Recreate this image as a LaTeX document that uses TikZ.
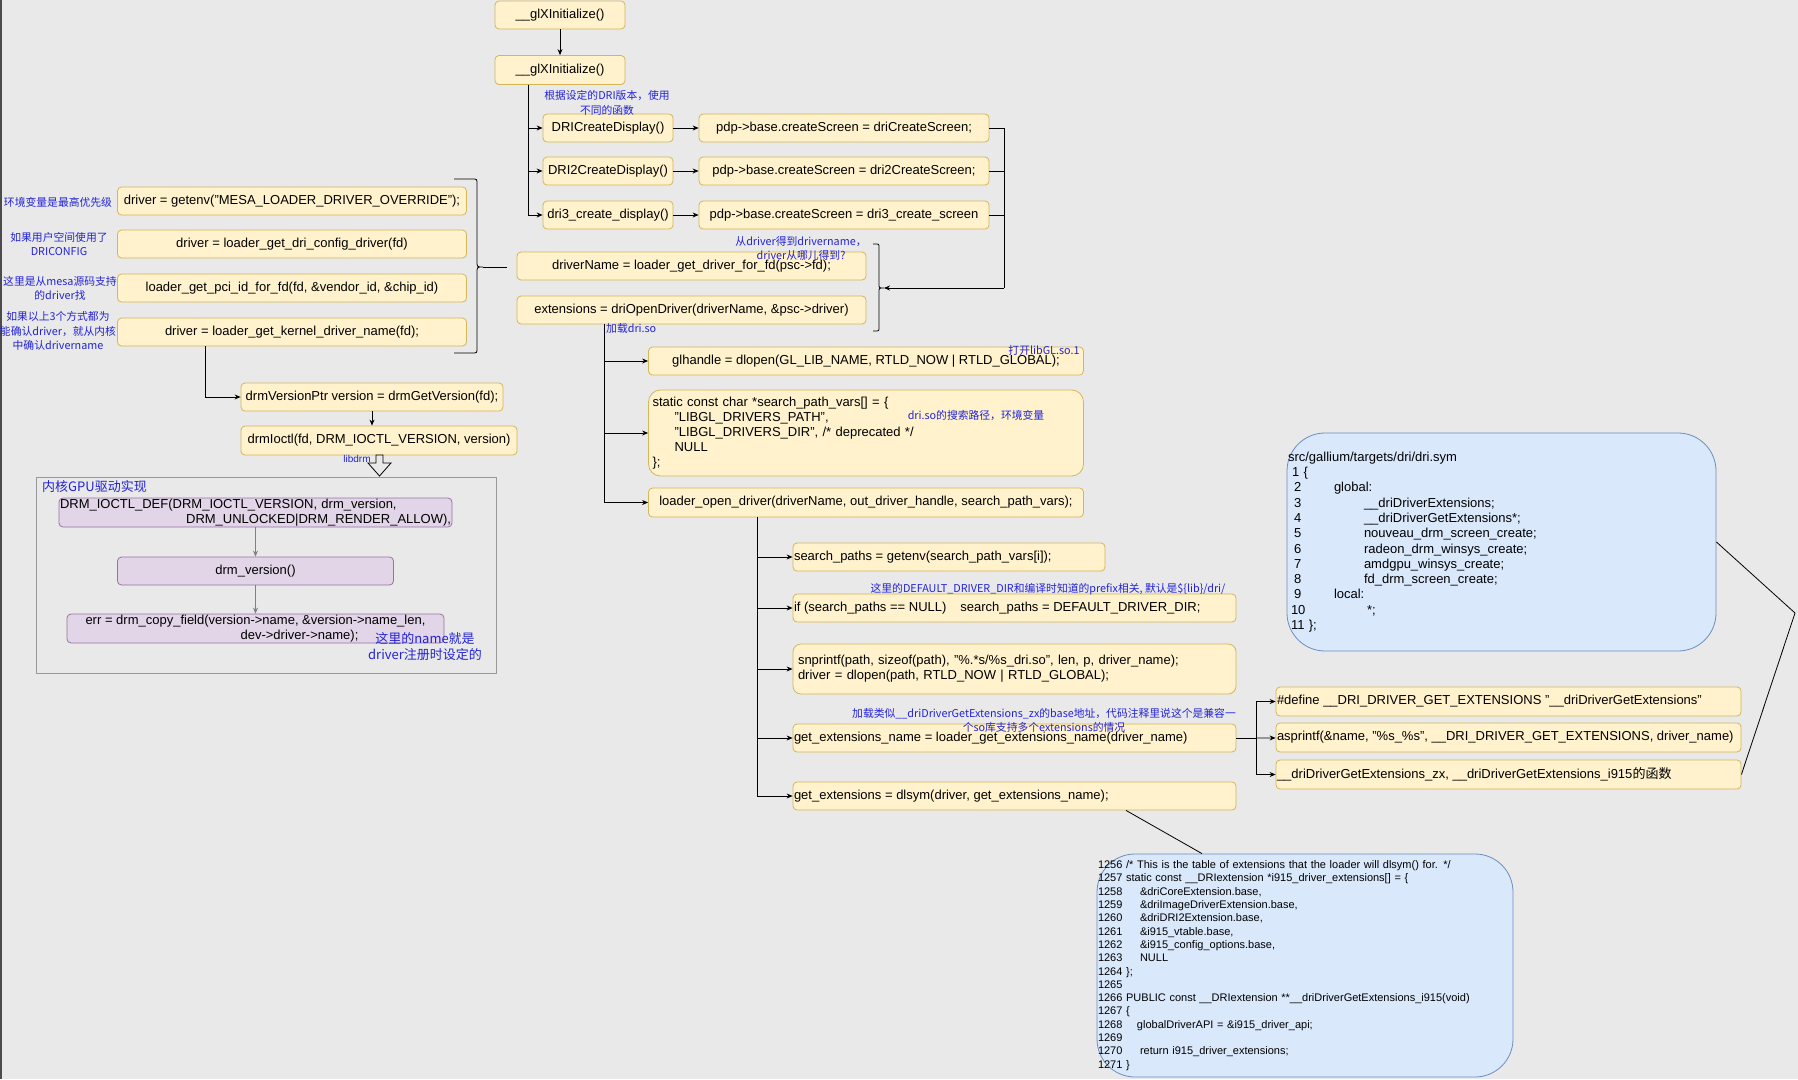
\documentclass[tikz,border=0pt]{standalone}
\usepackage{fontspec}
\setmainfont{Liberation Sans}
\newfontfamily\cjk{Noto Sans CJK SC}
\usetikzlibrary{arrows.meta}
\definecolor{bgc}{RGB}{233,233,233}
\definecolor{yfill}{RGB}{255,242,204}
\definecolor{ydraw}{RGB}{214,182,86}
\definecolor{pfill}{RGB}{225,213,231}
\definecolor{pdraw}{RGB}{150,115,166}
\definecolor{bfill}{RGB}{218,232,252}
\definecolor{bdraw}{RGB}{108,142,191}
\definecolor{notec}{RGB}{35,35,215}
\newcommand\codeno[2]{\makebox[#1][l]{#2}}
\newcommand\lft[2]{\makebox[#1pt][l]{#2}}
\tikzset{sz/.style 2 args={minimum width=#1pt,minimum height=#2pt}}

\begin{document}
\begin{tikzpicture}[x=1pt,y=-1pt,
    ybox/.style={draw=ydraw,fill=yfill,rounded corners=4pt,line width=0.8pt,inner sep=2pt,align=center,font=\fontsize{13}{15}\selectfont},
    lbox/.style={ybox,inner xsep=1pt},
    pbox/.style={draw=pdraw,fill=pfill,rounded corners=4pt,line width=0.8pt,inner sep=2pt,align=center,font=\fontsize{13}{15}\selectfont},
    bbox/.style={draw=bdraw,fill=bfill,rounded corners=38pt,line width=0.8pt,align=left,inner xsep=1pt},
    note/.style={text=notec,font=\cjk\fontsize{10.8}{14.5}\selectfont,align=center,inner sep=0pt},
    bignote/.style={note,font=\cjk\fontsize{13}{16}\selectfont},
    wire/.style={line width=0.8pt},
    arr/.style={wire,-{Stealth[length=6pt,width=5pt]}},
    garr/.style={arr,draw=gray}]
    \useasboundingbox (0,0) rectangle (1798,1079);
    \fill[bgc] (0,0) rectangle (1798,1079);
    \draw[line width=1.6pt,black!70] (1,0) -- (1,1079);

    \node[ybox,sz={130}{28}] (glx1) at (560,15) {\_\_glXInitialize()};
    \node[ybox,sz={130}{29}] (glx2) at (560,70) {\_\_glXInitialize()};
    \node[ybox,sz={130}{28}] (dri1) at (608,128) {DRICreateDisplay()};
    \node[ybox,sz={130}{28}] (dri2) at (608,171) {DRI2CreateDisplay()};
    \node[ybox,sz={130}{28}] (dri3) at (608,215) {dri3\_create\_display()};
    \node[ybox,sz={290}{28}] (pdp1) at (844,128) {pdp->base.createScreen = driCreateScreen;};
    \node[ybox,sz={290}{28}] (pdp2) at (844,171) {pdp->base.createScreen = dri2CreateScreen;};
    \node[ybox,sz={290}{28}] (pdp3) at (844,215) {pdp->base.createScreen = dri3\_create\_screen};

    \node[ybox,sz={349}{28}] (env) at (292,201) {driver = getenv("MESA\_LOADER\_DRIVER\_OVERRIDE");};
    \node[ybox,sz={349}{28}] (cfg) at (292,244) {driver = loader\_get\_dri\_config\_driver(fd)};
    \node[ybox,sz={349}{28}] (pci) at (292,288) {loader\_get\_pci\_id\_for\_fd(fd, \&vendor\_id, \&chip\_id)};
    \node[ybox,sz={349}{28}] (kdrv) at (292,332) {driver = loader\_get\_kernel\_driver\_name(fd);};
    \node[ybox,sz={262}{28}] (drmver) at (372,397) {drmVersionPtr version = drmGetVersion(fd);};
    \node[ybox,sz={276}{29}] (drmio) at (379,440.5) {drmIoctl(fd, DRM\_IOCTL\_VERSION, version)};

    \node[ybox,sz={349}{28}] (dname) at (691.5,266) {driverName = loader\_get\_driver\_for\_fd(psc->fd);};
    \node[ybox,sz={349}{28}] (ext) at (691.5,310) {extensions = driOpenDriver(driverName, \&psc->driver)};
    \node[ybox,sz={435}{28}] (glh) at (866,361) {glhandle = dlopen(GL\_LIB\_NAME, RTLD\_NOW | RTLD\_GLOBAL);};
    \node[ybox,align=left,rounded corners=12pt,inner xsep=4pt,text width=427pt,minimum height=86pt] (spv) at (866,433) {static const char *search\_path\_vars[] = \{\\\hspace*{22pt}"LIBGL\_DRIVERS\_PATH",\\\hspace*{22pt}"LIBGL\_DRIVERS\_DIR", /* deprecated */\\\hspace*{22pt}NULL\\\};};
    \node[ybox,sz={435}{29}] (lod) at (866,502.5) {loader\_open\_driver(driverName, out\_driver\_handle, search\_path\_vars);};

    \node[lbox,minimum height=28pt] (spath) at (949,557) {\lft{310}{search\_paths = getenv(search\_path\_vars[i]);}};
    \node[lbox,minimum height=28pt] (ifn) at (1014.5,608) {\lft{441}{if (search\_paths == NULL)\hspace{14pt}search\_paths = DEFAULT\_DRIVER\_DIR;}};
    \node[ybox,align=left,rounded corners=8pt,inner xsep=5pt,text width=433pt,minimum height=50pt] (snp) at (1014.5,669) {snprintf(path, sizeof(path), "\%.*s/\%s\_dri.so", len, p, driver\_name);\\driver = dlopen(path, RTLD\_NOW | RTLD\_GLOBAL);};
    \node[lbox,minimum height=28pt] (gen) at (1014.5,738) {\lft{441}{get\_extensions\_name = loader\_get\_extensions\_name(driver\_name)}};
    \node[lbox,minimum height=28pt] (gext) at (1014.5,796) {\lft{441}{get\_extensions = dlsym(driver, get\_extensions\_name);}};

    \node[lbox,minimum height=29pt] (def) at (1508.5,701.5) {\lft{463}{\#define \_\_DRI\_DRIVER\_GET\_EXTENSIONS "\_\_driDriverGetExtensions"}};
    \node[lbox,minimum height=29pt] (aspr) at (1508.5,737.5) {\lft{463}{asprintf(\&name, "\%s\_\%s", \_\_DRI\_DRIVER\_GET\_EXTENSIONS, driver\_name)}};
    \node[lbox,minimum height=29pt] (ddge) at (1508.5,774.5) {\lft{463}{\_\_driDriverGetExtensions\_zx, \_\_driDriverGetExtensions\_i915{\cjk 的函数}}};

    \node[bbox,text width=427pt,minimum height=218pt,font=\fontsize{13}{15.3}\selectfont] (dsym) at (1501.5,542) {src/gallium/targets/dri/dri.sym\\
    \hspace*{4pt}1 \{\\
    \codeno{46pt}{\hspace*{6pt}2}global:\\
    \codeno{76pt}{\hspace*{6pt}3}\_\_driDriverExtensions;\\
    \codeno{76pt}{\hspace*{6pt}4}\_\_driDriverGetExtensions*;\\
    \codeno{76pt}{\hspace*{6pt}5}nouveau\_drm\_screen\_create;\\
    \codeno{76pt}{\hspace*{6pt}6}radeon\_drm\_winsys\_create;\\
    \codeno{76pt}{\hspace*{6pt}7}amdgpu\_winsys\_create;\\
    \codeno{76pt}{\hspace*{6pt}8}fd\_drm\_screen\_create;\\
    \codeno{46pt}{\hspace*{6pt}9}local:\\
    \codeno{79pt}{\hspace*{3pt}10}*;\\
    \hspace*{3pt}11 \};};

    \node[bbox,text width=414pt,minimum height=223pt,font=\fontsize{11}{13.3}\selectfont] (code) at (1305,965.5) {1256 /* This is the table of extensions that the loader will dlsym() for. */\\
    1257 static const \_\_DRIextension *i915\_driver\_extensions[] = \{\\
    \codeno{42pt}{1258}\&driCoreExtension.base,\\
    \codeno{42pt}{1259}\&driImageDriverExtension.base,\\
    \codeno{42pt}{1260}\&driDRI2Extension.base,\\
    \codeno{42pt}{1261}\&i915\_vtable.base,\\
    \codeno{42pt}{1262}\&i915\_config\_options.base,\\
    \codeno{42pt}{1263}NULL\\
    1264 \};\\
    1265\\
    1266 PUBLIC const \_\_DRIextension **\_\_driDriverGetExtensions\_i915(void)\\
    1267 \{\\
    \codeno{39pt}{1268}globalDriverAPI = \&i915\_driver\_api;\\
    1269\\
    \codeno{42pt}{1270}return i915\_driver\_extensions;\\
    1271 \}};

    \node[draw=gray!80,line width=0.8pt,sz={460}{196}] (kgpu) at (266,575) {};
    \node[bignote,anchor=west] (kgpul) at (42,487) {内核GPU驱动实现};
    \node[pbox,align=left,inner xsep=1pt,inner ysep=0pt,text width=391pt,minimum height=29pt] (ioctl) at (255.5,512.5) {DRM\_IOCTL\_DEF(DRM\_IOCTL\_VERSION, drm\_version,\\\hfill DRM\_UNLOCKED|DRM\_RENDER\_ALLOW),};
    \node[pbox,sz={276}{28}] (dver) at (255.5,571) {drm\_version()};
    \node[pbox,inner ysep=0pt,sz={377}{29}] (errb) at (255.5,628.5) {err = drm\_copy\_field(version->name, \&version->name\_len,\\\hspace*{88pt}dev->driver->name);};

    \node[note] (n_dri) at (607,103) {根据设定的DRI版本，使用\\不同的函数};
    \node[note] (n_env) at (58,202) {环境变量是最高优先级};
    \node[note] (n_cfg) at (59,244) {如果用户空间使用了\\DRICONFIG};
    \node[note] (n_mesa) at (60,288.5) {这里是从mesa源码支持\\的driver找};
    \node[note] (n_kern) at (58,331) {如果以上3个方式都为\\能确认driver，就从内核\\中确认drivername};
    \node[note] (n_dname) at (801,248.5) {从driver得到drivername，\\driver从哪儿得到?};
    \node[note,anchor=west] (n_load) at (606,328) {加载dri.so};
    \node[note] (n_libgl) at (1044,350) {打开libGL.so.1};
    \node[note] (n_path) at (976,415) {dri.so的搜索路径，环境变量};
    \node[note] (n_def) at (1048,589) {这里的DEFAULT\_DRIVER\_DIR和编译时知道的prefix相关, 默认是\$\{lib\}/dri/};
    \node[note] (n_ext) at (1044,720.5) {加载类似\_\_driDriverGetExtensions\_zx的base地址，代码注释里说这个是兼容一\\个so库支持多个extensions的情况};
    \node[note,font=\fontsize{10}{12}\selectfont] (n_libdrm) at (357,459) {libdrm};
    \node[bignote] (n_name) at (425,647) {这里的name就是\\driver注册时设定的};

    \coordinate (ta) at (528,84.5);
    \coordinate (tr) at (1004,288);
    \coordinate (b1tip) at (483,267);
    \coordinate (b1end) at (507,267);
    \coordinate (b2tip) at (884,288);
    \coordinate (tb) at (604,324);
    \coordinate (tc) at (757,517);
    \coordinate (tdj) at (1256,738);
    \coordinate (kink) at (1795,613);

    \draw[arr] (glx1) -- (glx2);
    \draw[arr] (ta) |- (dri1);
    \draw[arr] (ta) |- (dri2);
    \draw[arr] (ta) |- (dri3);
    \draw[arr] (dri1) -- (pdp1);
    \draw[arr] (dri2) -- (pdp2);
    \draw[arr] (dri3) -- (pdp3);
    \draw[wire] (pdp1) -| (tr);
    \draw[wire] (pdp2) -| (tr);
    \draw[wire] (pdp3) -| (tr);
    \draw[arr] (tr) -- (b2tip);

    \draw[wire] (454,179) -- (472,179) .. controls (477,179) .. (477,184) -- (477,261) .. controls (477,267) .. (483,267) .. controls (477,267) .. (477,273) -- (477,348) .. controls (477,353) .. (472,353) -- (454,353);
    \draw[wire] (b1tip) -- (b1end);
    \draw[wire] (873,244) -- (875,244) .. controls (879,244) .. (879,248) -- (879,284) .. controls (879,288) .. (884,288) .. controls (879,288) .. (879,292) -- (879,327) .. controls (879,331) .. (875,331) -- (873,331);

    \draw[arr] ([xshift=-87pt]kdrv.south) |- (drmver);
    \draw[arr] (drmver.south) -- (drmver.south |- drmio.north);
    \draw[wire,fill=bgc] (376,455) -- (383,455) -- (383,463) -- (391,463) -- (379.5,476) -- (368,463) -- (376,463) -- cycle;
    \draw[garr] (ioctl) -- (dver);
    \draw[garr] (dver) -- (errb);

    \draw[arr] (tb) |- (glh);
    \draw[arr] (tb) |- (spv);
    \draw[arr] (tb) |- (lod);
    \draw[arr] (tc) |- (spath);
    \draw[arr] (tc) |- (ifn);
    \draw[arr] (tc) |- (snp);
    \draw[arr] (tc) |- (gen);
    \draw[arr] (tc) |- (gext);

    \draw[wire] (gen) -- (tdj);
    \draw[arr] (tdj) |- (def);
    \draw[arr] (tdj) -- (aspr);
    \draw[arr] (tdj) |- (ddge);
    \draw[wire] (ddge.east) -- (kink) -- (dsym.east);
    \draw[wire] ([xshift=111.5pt]gext.south) -- ([xshift=-103pt]code.north);
\end{tikzpicture}
\end{document}
